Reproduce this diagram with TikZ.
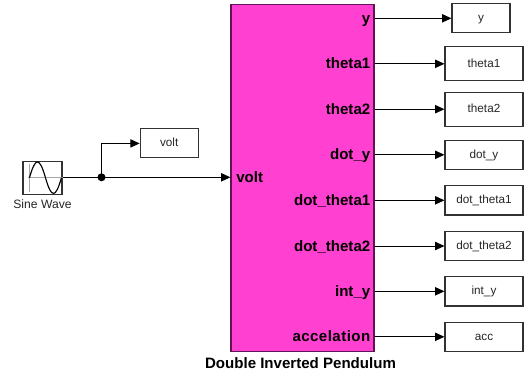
\documentclass[tikz,border=0pt]{standalone}
\usepackage{fontspec}
\setmainfont{Liberation Sans}
\usetikzlibrary{arrows.meta,calc}
\definecolor{blockpink}{RGB}{255,64,208}
\definecolor{blockedge}{RGB}{95,20,85}
\definecolor{edgegray}{RGB}{50,50,50}
\tikzset{
  px/.style={x=0.75pt,y=-0.75pt},
  sinkbox/.style={draw=edgegray,line width=0.8pt,fill=white,inner sep=0pt,text height=7pt,text depth=2pt,font=\fontsize{8.8}{10}\selectfont,text=black!85},
  tallbox/.style={sinkbox,minimum width=58.5pt,minimum height=25.5pt},
  lowbox/.style={sinkbox,minimum width=58.5pt,minimum height=22pt},
  wire/.style={draw=black,line width=0.75pt,-{Triangle[length=7pt,width=6.2pt]}},
  boldtext/.style={font=\fontsize{11.3}{13}\bfseries\selectfont,inner sep=0pt},
}
\begin{document}
\begin{tikzpicture}[px]
\useasboundingbox (0,0) rectangle (526,376);
% main block
\node[draw=blockedge,line width=0.8pt,fill=blockpink,minimum width=107.25pt,minimum height=260.25pt,inner sep=0pt] (plant) at (302.5,177.7) {};
\node[boldtext,anchor=base] (title) at (300.5,368) {Double Inverted Pendulum};
% sine source
\node[draw=edgegray,line width=0.8pt,fill=white,minimum width=29.25pt,minimum height=25pt,inner sep=0pt] (sine) at (42.5,177.7) {};
\draw[gray!70,line width=0.6pt] ($(sine.west)+(7,-14)$) -- ($(sine.west)+(7,14)$);
\draw[gray!70,line width=0.6pt] ($(sine.west)+(6,0)$) -- (sine.east);
\draw[black,line width=0.85pt] ($(sine.west)+(7,0)$) .. controls ($(sine.west)+(13,-21)$) and ($(sine.west)+(17,-21)$) .. ($(sine.west)+(23,0)$) .. controls ($(sine.west)+(29,21)$) and ($(sine.west)+(33,21)$) .. ($(sine.west)+(39,0)$);
\node[anchor=base,font=\fontsize{9.1}{11}\selectfont,text=black!85,inner sep=0pt] (sinelabel) at (42.5,208) {Sine Wave};
% volt scope
\node[sinkbox,minimum width=43.5pt,minimum height=21.75pt] (voltbox) at (169.2,143.4) {volt};
% junction
\coordinate (junc) at (101.5,177.3);
\fill (junc) circle (3pt);
\draw[wire] (sine.east |- junc) -- (plant.west |- junc);
\draw[wire] (junc) |- (voltbox.west);
\node[boldtext,anchor=base west] (voltport) at (236,182) {volt};
% outputs
\node[sinkbox,minimum width=43.5pt,minimum height=21.75pt] (by) at (481,18.3) {y};
\node[tallbox] (bt1) at (484,63.8) {theta1};
\node[tallbox] (bt2) at (484,109.2) {theta2};
\node[lowbox] (bdy) at (484,154.8) {dot\_y};
\node[lowbox] (bdt1) at (484,200.3) {dot\_theta1};
\node[lowbox] (bdt2) at (484,246) {dot\_theta2};
\node[lowbox] (biy) at (484,291.3) {int\_y};
\node[lowbox] (bacc) at (484,336.8) {acc};
\foreach \b/\t in {by/y,bt1/theta1,bt2/theta2,bdy/dot\_y,bdt1/dot\_theta1,bdt2/dot\_theta2,biy/int\_y}{
  \node[boldtext,anchor=base east] at ($(plant.east |- \b.west)+(-4,5)$) {\t};
  \draw[wire] (plant.east |- \b.west) -- (\b.west);
}
\node[boldtext,anchor=base east] at ($(plant.east |- bacc.west)+(-4,5)$) {\addfontfeature{LetterSpace=3}accelation};
\draw[wire] (plant.east |- bacc.west) -- (bacc.west);
\end{tikzpicture}
\end{document}
